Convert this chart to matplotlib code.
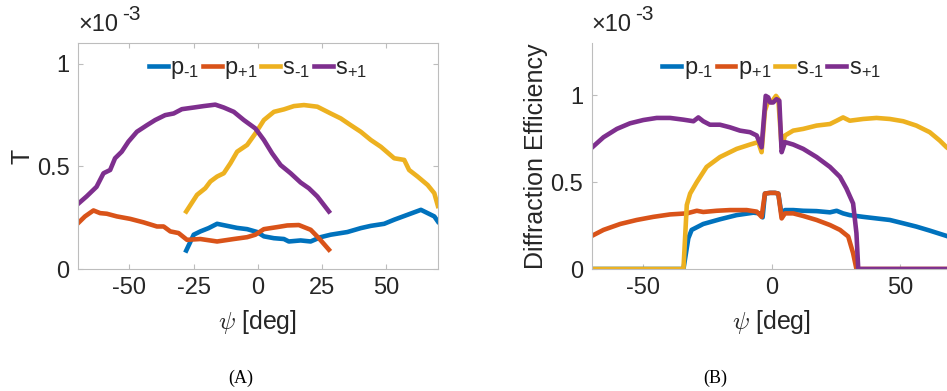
import numpy as np
import matplotlib
matplotlib.use("Agg")
import matplotlib.pyplot as plt

plt.rcParams["font.family"] = ["Liberation Sans", "DejaVu Sans"]
plt.rcParams["mathtext.fontset"] = "custom"
plt.rcParams["mathtext.rm"] = "Liberation Sans"
plt.rcParams["mathtext.it"] = "Liberation Sans:italic"
plt.rcParams["axes.unicode_minus"] = False

# ── Panel A: transmission T (x1e-3) ──────────────────────────────────────────
a_sp1_x = [-70, -66.7, -62.8, -60.1, -57.5, -55.6, -53, -50.4, -47.1, -43.2, -40, -36.1,
           -32.8, -29.6, -25, -21.1, -16.6, -13.3, -9.4, -5.5, -1, 2.3, 5.5, 8.8, 12.7,
           16.6, 19.8, 23.1, 27.6]
a_sp1_y = [0.317, 0.353, 0.40, 0.466, 0.482, 0.539, 0.571, 0.62, 0.668, 0.70, 0.725, 0.749,
           0.757, 0.778, 0.786, 0.793, 0.80, 0.786, 0.765, 0.725, 0.684, 0.628, 0.563, 0.506,
           0.466, 0.421, 0.393, 0.353, 0.28]

a_sm1_x = [-27.9, -23.7, -20.5, -18.5, -15.9, -13.3, -10.7, -8.1, -4.2, -1, 2.3, 6.2, 10.1,
           14, 17.9, 23.1, 28.3, 32.2, 36.1, 40, 43.9, 47.8, 53, 56.9, 58.8, 62.1, 66, 68.6, 70]
a_sm1_y = [0.28, 0.361, 0.393, 0.426, 0.45, 0.466, 0.515, 0.571, 0.604, 0.66, 0.725, 0.765,
           0.777, 0.793, 0.798, 0.79, 0.757, 0.733, 0.70, 0.668, 0.628, 0.595, 0.539, 0.531,
           0.482, 0.45, 0.409, 0.369, 0.307]

a_pp1_x = [-70, -67.3, -64, -61.4, -58.8, -54.9, -49.7, -44.5, -39.3, -36.7, -34.1, -30.9,
           -27.6, -22.4, -15.9, -9.4, -4.2, -1, 2.3, 7.5, 11.4, 15.9, 20.5, 23.7, 27.6]
a_pp1_y = [0.223, 0.256, 0.285, 0.272, 0.269, 0.256, 0.244, 0.227, 0.207, 0.207, 0.183, 0.175,
           0.142, 0.146, 0.134, 0.146, 0.155, 0.167, 0.194, 0.204, 0.212, 0.214, 0.191, 0.150,
           0.094]

a_pm1_x = [-27.9, -25, -22.4, -19.2, -15.9, -12, -8.1, -4.2, -0.3, 2.3, 6.2, 10.1, 12, 16.6,
           20.5, 24.4, 28.3, 34.8, 40, 43.9, 49.1, 53, 58.2, 63.4, 66, 68.6, 70]
a_pm1_y = [0.09, 0.167, 0.183, 0.199, 0.22, 0.21, 0.20, 0.194, 0.18, 0.159, 0.15, 0.146, 0.134,
           0.139, 0.134, 0.155, 0.167, 0.18, 0.199, 0.21, 0.22, 0.24, 0.264, 0.288, 0.272,
           0.256, 0.231]

# ── Panel B: diffraction efficiency (x1e-3) ─────────────────────────────────
b_sp1_x = [-70, -65.4, -60.2, -55.1, -49.9, -44.7, -39.5, -34.3, -30.4, -28.5, -26.6, -24,
           -20.1, -16.2, -12.3, -8.4, -5.8, -3.9, -2.3, -1.3, -0.6, 0.6, 1.9, 3, 3.9, 5.2,
           8.4, 12.3, 17.5, 22.7, 26.6, 29.1, 31.7, 33, 33.7, 70]
b_sp1_y = [0.697, 0.758, 0.806, 0.838, 0.857, 0.869, 0.869, 0.859, 0.85, 0.872, 0.85, 0.83,
           0.83, 0.815, 0.796, 0.787, 0.768, 0.70, 0.996, 0.987, 0.958, 0.958, 0.977, 0.968,
           0.672, 0.73, 0.716, 0.691, 0.644, 0.587, 0.53, 0.463, 0.377, 0.206, 0, 0]

b_sm1_x = [-70, -34.3, -33, -31.7, -29.1, -25.3, -20.1, -13.6, -8.4, -5.2, -3.9, -2.6, -1.3,
           0, 1.7, 2.6, 3.9, 5.2, 8.4, 12.3, 17.5, 22.7, 25.3, 27.8, 30.4, 35.6, 40.8, 46,
           51.2, 56.3, 61.5, 65.4, 68.1, 70]
b_sm1_y = [0, 0, 0.368, 0.434, 0.50, 0.587, 0.644, 0.691, 0.716, 0.73, 0.672, 0.91, 0.968,
           0.96, 0.996, 0.977, 0.70, 0.768, 0.796, 0.806, 0.825, 0.834, 0.853, 0.872, 0.853,
           0.863, 0.869, 0.863, 0.85, 0.825, 0.787, 0.739, 0.70, 0.68]

b_pp1_x = [-70, -65.4, -58.9, -52.5, -46, -39.5, -33, -29.1, -26.6, -21.4, -16.2, -9.7, -5.8,
           -3.9, -2.6, -0.6, 1.3, 2.6, 3.9, 5.2, 8.4, 12.3, 17.5, 22.7, 26.6, 29.8, 31.7, 33, 70]
b_pp1_y = [0.19, 0.225, 0.259, 0.282, 0.30, 0.314, 0.32, 0.335, 0.328, 0.335, 0.339, 0.339,
           0.33, 0.30, 0.434, 0.438, 0.438, 0.434, 0.291, 0.32, 0.32, 0.305, 0.282, 0.253,
           0.225, 0.187, 0.091, 0, 0]

b_pm1_x = [-70, -34.3, -32.4, -31.1, -26.6, -20.1, -13.6, -7.1, -4.5, -3.5, -2.6, -0.6, 1.3,
           2.6, 3.9, 5.2, 8.4, 12.3, 17.5, 22.7, 25.3, 27.8, 30.4, 35.6, 40.8, 46, 51.2, 56.3,
           61.5, 68.1, 70]
b_pm1_y = [0, 0, 0.177, 0.225, 0.259, 0.286, 0.31, 0.324, 0.32, 0.297, 0.434, 0.438, 0.438,
           0.434, 0.31, 0.339, 0.339, 0.335, 0.333, 0.326, 0.335, 0.32, 0.31, 0.30, 0.291,
           0.282, 0.263, 0.244, 0.221, 0.19, 0.18]

labels = ["p$_{\u2010\\rm{1}}$", "p$_{+\\rm{1}}$", "s$_{\u2010\\rm{1}}$", "s$_{+\\rm{1}}$"]
colors = ["#0072BD", "#D95319", "#EDB120", "#7E2F8E"]

panel_a = [(a_pm1_x, a_pm1_y), (a_pp1_x, a_pp1_y), (a_sm1_x, a_sm1_y), (a_sp1_x, a_sp1_y)]
panel_b = [(b_pm1_x, b_pm1_y), (b_pp1_x, b_pp1_y), (b_sm1_x, b_sm1_y), (b_sp1_x, b_sp1_y)]

spine_c = "#bdbdbd"
text_c = "#262626"

fig = plt.figure(figsize=(9.47, 3.91), dpi=100)
ax_a = fig.add_axes([0.0824, 0.312, 0.380, 0.578])
ax_b = fig.add_axes([0.6248, 0.312, 0.380, 0.578])


def style_axes(ax, box):
    for side in ["left", "bottom", "top", "right"]:
        ax.spines[side].set_color(spine_c)
        ax.spines[side].set_linewidth(0.8)
        ax.spines[side].set_visible(box or side in ("left", "bottom"))
    ax.tick_params(direction="in", length=3.5, width=0.8, color=spine_c,
                   labelsize=17, labelcolor=text_c, pad=6,
                   top=box, right=box)
    ax.text(0.0, 1.03, "\u00d710", transform=ax.transAxes, fontsize=17,
            color=text_c, ha="left", va="bottom")
    ax.text(0.122, 1.085, "-3", transform=ax.transAxes, fontsize=15,
            color=text_c, ha="left", va="bottom")
    ax.set_xlabel(r"$\psi$ [deg]", fontsize=18, color=text_c, labelpad=6)
    ax.xaxis.label.set_math_fontfamily("cm")


for ax, series in [(ax_a, panel_a), (ax_b, panel_b)]:
    for (x, y), lab, c in zip(series, labels, colors):
        ax.plot(x, np.array(y), color=c, lw=3.3, label=lab)
    ax.set_xlim(-70, 70)
    leg = ax.legend(loc="upper center", bbox_to_anchor=(0.5, 1.0), ncol=4, frameon=False,
                    fontsize=17, handlelength=0.8, handletextpad=0.1, columnspacing=0.15,
                    borderaxespad=0.2)
    for t in leg.get_texts():
        t.set_color(text_c)

ax_a.set_ylim(0, 1.1)
ax_a.set_xticks([-50, -25, 0, 25, 50])
ax_a.set_yticks([0, 0.5, 1])
ax_a.set_yticklabels(["0", "0.5", "1"])
style_axes(ax_a, True)
ax_a.set_ylabel("T", fontsize=18, color=text_c, labelpad=2)

ax_b.set_ylim(0, 1.3)
ax_b.set_xticks([-50, 0, 50])
ax_b.set_yticks([0, 0.5, 1])
ax_b.set_yticklabels(["0", "0.5", "1"])
style_axes(ax_b, False)
ax_b.set_ylabel("Diffraction Efficiency", fontsize=18, color=text_c, labelpad=2)

fig.text(241 / 947, 1 - 378 / 391, "(A)", family="Liberation Serif", fontsize=13,
         ha="center", va="center", color="black")
fig.text(715 / 947, 1 - 378 / 391, "(B)", family="Liberation Serif", fontsize=13,
         ha="center", va="center", color="black")

fig.savefig("out.png", dpi=100)
